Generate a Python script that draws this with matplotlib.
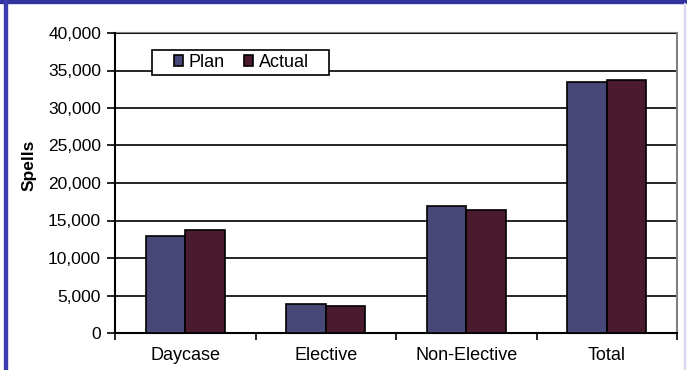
import matplotlib.pyplot as plt
import matplotlib.patches as mpatches
import numpy as np
from matplotlib.ticker import FuncFormatter, FixedLocator

plt.rcParams['font.family'] = ['Liberation Sans', 'DejaVu Sans']

categories = ['Daycase', 'Elective', 'Non-Elective', 'Total']
plan = [12950, 3850, 16950, 33450]
actual = [13700, 3600, 16400, 33700]
series_names = ['Plan', 'Actual']
colors = ['#484878', '#4a1b2e']

W, H = 687, 370
fig = plt.figure(figsize=(W / 100, H / 100), dpi=100)

# outer frame bits (cropped chart border)
fig.patches.append(mpatches.Rectangle((0, 1 - 3 / H), 1, 3 / H, transform=fig.transFigure,
                                      color='#3333a0', zorder=0))
fig.patches.append(mpatches.Rectangle((4 / W, 0), 2.5 / W, 1, transform=fig.transFigure,
                                      color='#3c3cae', zorder=0))
fig.patches.append(mpatches.Rectangle((683.5 / W, 0), 1 / W, 1 - 3 / H, transform=fig.transFigure,
                                      color='#d8d8ec', zorder=0))

ax = fig.add_axes([115 / W, (H - 333) / H, 562 / W, 300 / H])

x = np.arange(len(categories))
w = 0.281
ax.bar(x - w / 2, plan, w, color=colors[0], edgecolor='black', linewidth=1.2, label=series_names[0], zorder=3)
ax.bar(x + w / 2, actual, w, color=colors[1], edgecolor='black', linewidth=1.2, label=series_names[1], zorder=3)

ax.set_xlim(-0.5, len(categories) - 0.5)
ax.set_ylim(0, 40000)
ax.set_yticks(np.arange(0, 40001, 5000))
ax.yaxis.set_major_formatter(FuncFormatter(lambda v, p: f'{int(v):,}'))
ax.grid(axis='y', color='black', linewidth=1.2, zorder=1)

ax.set_xticks(x)
ax.set_xticklabels(categories)
ax.xaxis.set_minor_locator(FixedLocator(np.arange(-0.5, len(categories), 1)))
ax.tick_params(axis='x', which='major', length=0, pad=10, labelsize=13)
ax.tick_params(axis='x', which='minor', length=5, width=1.2, direction='out')
ax.tick_params(axis='y', length=6, width=1.2, direction='out', pad=4, labelsize=12.5)

for s in ['left', 'bottom']:
    ax.spines[s].set_color('black')
    ax.spines[s].set_linewidth(1.5)
for s in ['top', 'right']:
    ax.spines[s].set_color('#808080')
    ax.spines[s].set_linewidth(1.5)
ax.spines['top'].set_zorder(0.5)

fig.text(29 / W, 1 - 165 / H, 'Spells', rotation=90, ha='center', va='center',
         fontsize=12.5, fontweight='bold')

# legend box drawn separately so the padding can match the original
ax.add_patch(mpatches.Rectangle(((152 - 115) / 562, (333 - 75) / 300), 177 / 562, 25 / 300,
                                transform=ax.transAxes, facecolor='white', edgecolor='black',
                                linewidth=1.2, zorder=4, clip_on=False))
leg = ax.legend(loc='center left', bbox_to_anchor=((174 - 115) / 562, (333 - 62.5) / 300),
                ncol=2, frameon=False, fontsize=13,
                handlelength=0.5, handleheight=0.5, handletextpad=0.3, columnspacing=1.1,
                borderpad=0, borderaxespad=0)
leg.set_zorder(5)

fig.savefig('out.png', dpi=100)
